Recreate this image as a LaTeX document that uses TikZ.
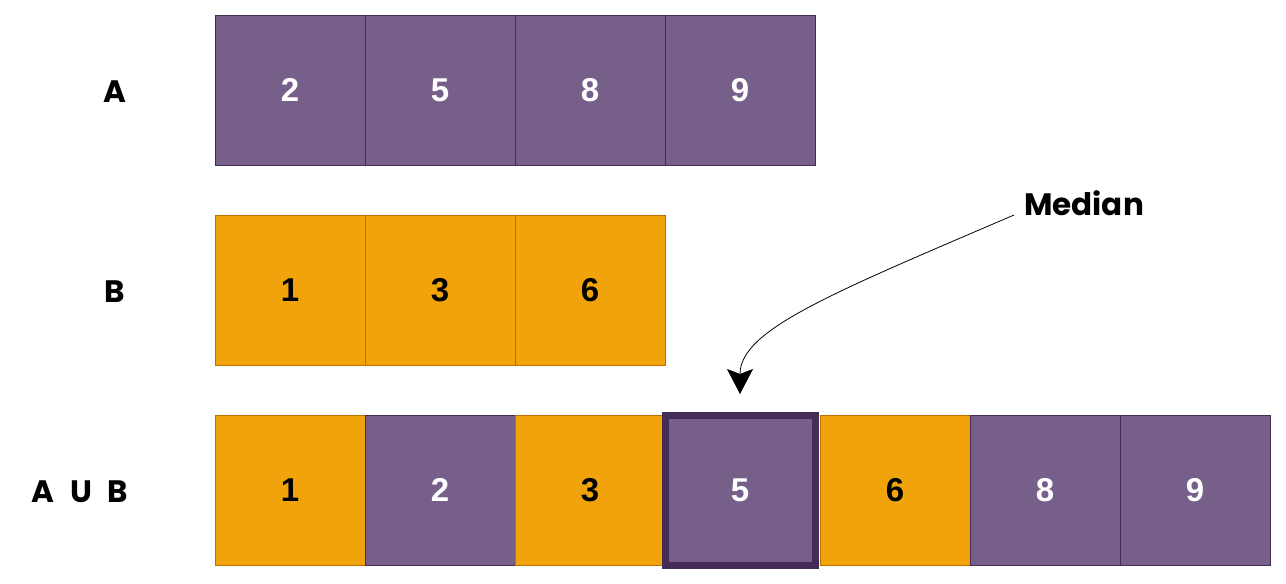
\documentclass[tikz,border=0pt]{standalone}
\usepackage{fontspec}
\setmainfont{Liberation Sans}
\newfontfamily\handfont{Poppins}
\usetikzlibrary{positioning,arrows.meta}
\definecolor{purplefill}{HTML}{76608A}
\definecolor{purpleline}{HTML}{432D57}
\definecolor{orangefill}{HTML}{F0A30A}
\definecolor{orangeline}{HTML}{BD7000}
\tikzset{>=stealth,
  cell/.style={minimum size=150pt, inner sep=0pt, outer sep=0pt, line width=1pt,
    font=\fontsize{33}{40}\selectfont\bfseries},
  pcell/.style={cell, draw=purpleline, fill=purplefill, text=white},
  ocell/.style={cell, draw=orangeline, fill=orangefill, text=black},
  mcell/.style={pcell, line width=7pt},
  lbl/.style={inner sep=0pt, font=\handfont\fontsize{31}{36}\selectfont\bfseries}}
\begin{document}
\begin{tikzpicture}[x=1pt, y=-1pt]
\useasboundingbox (0,0) rectangle (1286,584);
\node[pcell] (a1) at (290,90) {2};
\node[pcell, right=0pt of a1] (a2) {5};
\node[pcell, right=0pt of a2] (a3) {8};
\node[pcell, right=0pt of a3] (a4) {9};
\node[ocell] (b1) at (290,290) {1};
\node[ocell, right=0pt of b1] (b2) {3};
\node[ocell, right=0pt of b2] (b3) {6};
\node[ocell] (u1) at (290,490) {1};
\node[pcell, right=0pt of u1] (u2) {2};
\node[ocell, right=0pt of u2] (u3) {3};
\node[mcell, right=0pt of u3] (u4) {5};
\node[ocell, right=5pt of u4] (u5) {6};
\node[pcell, right=0pt of u5] (u6) {8};
\node[pcell, right=0pt of u6] (u7) {9};
\node[lbl] (lblA) at (115,92) {A};
\node[lbl] (lblB) at (115,292) {B};
\node[lbl] (lblU) at (80,492) {A\hspace{0.5em}U\hspace{0.5em}B};
\node[lbl, anchor=west] (med) at (1024,203) {Median};
\draw[-{Stealth[length=25pt,width=26pt,inset=5pt]}, line width=0.8pt, shorten >=21pt]
  ([xshift=-10pt,yshift=-12pt]med.west) .. controls +(-184,79) and +(0,-85) .. (u4.north);
\end{tikzpicture}
\end{document}
